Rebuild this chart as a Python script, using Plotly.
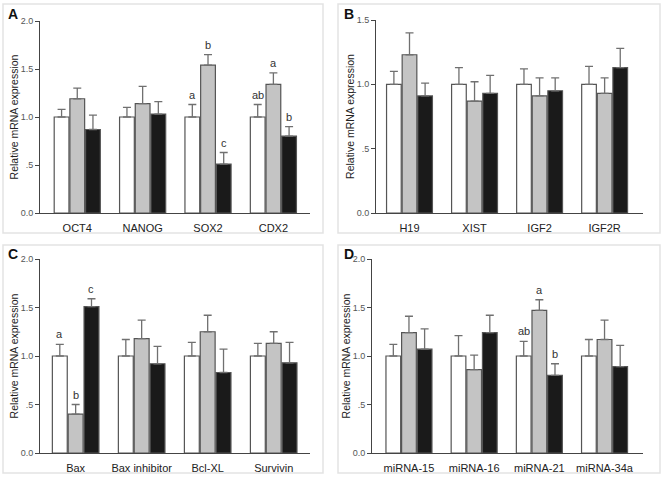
import plotly.graph_objects as go

W, H = 662, 479

# ---------------- data ----------------
cats_a = ["OCT4", "NANOG", "SOX2", "CDX2"]
white_a = [1.00, 1.00, 1.00, 1.00]
grey_a = [1.19, 1.14, 1.54, 1.34]
black_a = [0.87, 1.03, 0.51, 0.80]
err_white_a = [0.08, 0.10, 0.13, 0.13]
err_grey_a = [0.11, 0.18, 0.11, 0.12]
err_black_a = [0.15, 0.13, 0.12, 0.10]
sig_a = [["", "", ""], ["", "", ""], ["a", "b", "c"], ["ab", "a", "b"]]

cats_b = ["H19", "XIST", "IGF2", "IGF2R"]
white_b = [1.00, 1.00, 1.00, 1.00]
grey_b = [1.23, 0.87, 0.91, 0.93]
black_b = [0.91, 0.93, 0.95, 1.13]
err_white_b = [0.10, 0.13, 0.12, 0.14]
err_grey_b = [0.17, 0.15, 0.14, 0.12]
err_black_b = [0.10, 0.14, 0.10, 0.15]
sig_b = [["", "", ""], ["", "", ""], ["", "", ""], ["", "", ""]]

cats_c = ["Bax", "Bax inhibitor", "Bcl-XL", "Survivin"]
white_c = [1.00, 1.00, 1.00, 1.00]
grey_c = [0.40, 1.18, 1.25, 1.13]
black_c = [1.51, 0.92, 0.83, 0.93]
err_white_c = [0.12, 0.17, 0.14, 0.13]
err_grey_c = [0.10, 0.19, 0.17, 0.12]
err_black_c = [0.08, 0.18, 0.24, 0.21]
sig_c = [["a", "b", "c"], ["", "", ""], ["", "", ""], ["", "", ""]]

cats_d = ["miRNA-15", "miRNA-16", "miRNA-21", "miRNA-34a"]
white_d = [1.00, 1.00, 1.00, 1.00]
grey_d = [1.24, 0.86, 1.47, 1.17]
black_d = [1.07, 1.24, 0.80, 0.89]
err_white_d = [0.12, 0.21, 0.15, 0.17]
err_grey_d = [0.17, 0.15, 0.11, 0.20]
err_black_d = [0.21, 0.18, 0.12, 0.22]
sig_d = [["", "", ""], ["", "", ""], ["ab", "a", "b"], ["", "", ""]]

ytick_vals_2 = [0.0, 0.5, 1.0, 1.5, 2.0]
ytick_text_2 = ["0.0", ".5", "1.0", "1.5", "2.0"]
ytick_vals_15 = [0.0, 0.5, 1.0, 1.5]
ytick_text_15 = ["0.0", ".5", "1.0", "1.5"]

y_title = "Relative mRNA expression"

# ---------------- layout helpers ----------------
def px_x(p):
    return p / W

def px_y(p):
    return (H - p) / H

panels = [
    dict(letter="A", cats=cats_a, vals=[white_a, grey_a, black_a],
         errs=[err_white_a, err_grey_a, err_black_a], sig=sig_a,
         yr=2.0, tv=ytick_vals_2, tt=ytick_text_2, xr=[-0.57, 3.56],
         xd=(40, 310), yd=(213, 21), lp=(6, 14), box=(3, 4, 323, 233)),
    dict(letter="B", cats=cats_b, vals=[white_b, grey_b, black_b],
         errs=[err_white_b, err_grey_b, err_black_b], sig=sig_b,
         yr=1.5, tv=ytick_vals_15, tt=ytick_text_15, xr=[-0.515, 3.59],
         xd=(376, 643), yd=(213, 20), lp=(342, 14), box=(338, 4, 660, 233)),
    dict(letter="C", cats=cats_c, vals=[white_c, grey_c, black_c],
         errs=[err_white_c, err_grey_c, err_black_c], sig=sig_c,
         yr=2.0, tv=ytick_vals_2, tt=ytick_text_2, xr=[-0.54, 3.55],
         xd=(40, 310), yd=(453, 259), lp=(6, 254), box=(3, 245, 323, 473)),
    dict(letter="D", cats=cats_d, vals=[white_d, grey_d, black_d],
         errs=[err_white_d, err_grey_d, err_black_d], sig=sig_d,
         yr=2.0, tv=ytick_vals_2, tt=ytick_text_2, xr=[-0.567, 3.59],
         xd=(372, 643), yd=(453, 259), lp=(342, 254), box=(338, 245, 660, 473)),
]

fills = ["#ffffff", "#c4c4c4", "#1a1a1a"]
FONT = "Liberation Sans, Arial, sans-serif"
bargap = 0.28
slot = (1 - bargap) / 3

fig = go.Figure()
annotations = []
shapes = []

for i, p in enumerate(panels):
    n = "" if i == 0 else str(i + 1)
    xa, ya = "x" + n, "y" + n
    xs = list(range(len(p["cats"])))
    for j in range(3):
        fig.add_trace(go.Bar(
            x=xs, y=p["vals"][j], xaxis=xa, yaxis=ya,
            marker=dict(color=fills[j], line=dict(color="#555555", width=1.2)),
            error_y=dict(type="data", array=p["errs"][j], arrayminus=[0] * len(xs),
                         symmetric=False, color="#707070", thickness=1.3, width=4),
            showlegend=False, hoverinfo="skip",
        ))
        for k in xs:
            s = p["sig"][k][j]
            if s:
                annotations.append(dict(
                    x=k + (j - 1) * slot, y=p["vals"][j][k] + p["errs"][j][k],
                    xref=xa, yref=ya, text=s, showarrow=False,
                    yanchor="bottom", yshift=2,
                    font=dict(family=FONT, size=11, color="#333333")))
    xkey = "xaxis" + n
    ykey = "yaxis" + n
    fig.layout[xkey] = dict(
        domain=[px_x(p["xd"][0]), px_x(p["xd"][1])], anchor=ya,
        range=p["xr"], tickvals=xs, ticktext=p["cats"], ticks="",
        ticklabelstandoff=5,
        showline=True, linecolor="#444444", linewidth=1, showgrid=False,
        zeroline=False, tickfont=dict(family=FONT, size=11, color="#222222"),
        automargin=False, fixedrange=True)
    fig.layout[ykey] = dict(
        domain=[px_y(p["yd"][0]), px_y(p["yd"][1])], anchor=xa,
        range=[0, p["yr"]], tickvals=p["tv"], ticktext=p["tt"],
        ticks="outside", ticklen=4, tickcolor="#444444", tickwidth=1,
        showline=True, linecolor="#444444", linewidth=1, showgrid=False,
        zeroline=False, tickfont=dict(family=FONT, size=9, color="#555555"),
        title=dict(text=y_title, standoff=0,
                   font=dict(family=FONT, size=10.5, color="#222222")),
        automargin=False, fixedrange=True)
    annotations.append(dict(
        x=px_x(p["lp"][0]), y=px_y(p["lp"][1]), xref="paper", yref="paper",
        text="<b>" + p["letter"] + "</b>", showarrow=False,
        xanchor="left", yanchor="middle",
        font=dict(family=FONT, size=14, color="#111111")))
    x0, y0, x1, y1 = p["box"]
    shapes.append(dict(type="rect", xref="paper", yref="paper",
                       x0=px_x(x0), x1=px_x(x1), y0=px_y(y1), y1=px_y(y0),
                       line=dict(color="#e3e3e3", width=1.5), layer="below"))

fig.update_layout(
    width=W, height=H, margin=dict(l=0, r=0, t=0, b=0),
    paper_bgcolor="white", plot_bgcolor="white",
    barmode="group", bargap=bargap, bargroupgap=0.06,
    annotations=annotations, shapes=shapes,
    font=dict(family=FONT),
)

fig.write_html("out.html", config={"displayModeBar": False},
               post_script="document.body.style.margin='0';document.body.style.overflow='hidden';")
